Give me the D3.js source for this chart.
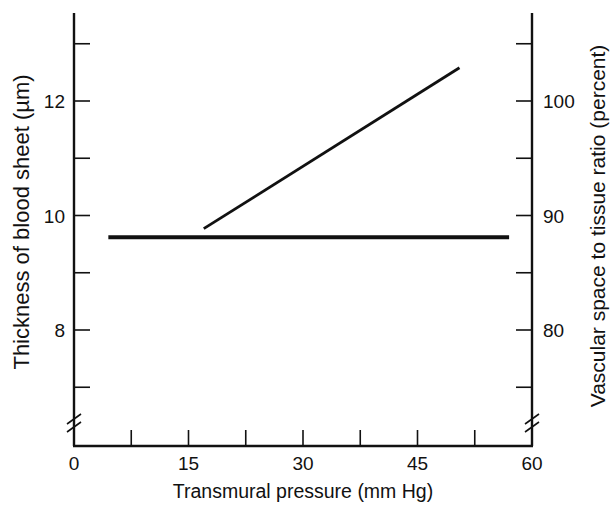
<!DOCTYPE html>
<html><head><meta charset="utf-8">
<script src="https://cdn.jsdelivr.net/npm/d3@7"></script>
<style>body{margin:0;background:#fff}svg{display:block}text{font-family:"Liberation Sans",Arial,sans-serif;fill:#111}</style>
</head><body><svg id="c" width="610" height="506"></svg>
<script>
// Data
const xTickLabels = [0, 15, 30, 45, 60];
const xMinorTicks = [7.5, 15, 22.5, 30, 37.5, 45, 52.5];
const leftTickLabels = [8, 10, 12];
const leftTicks = [7, 8, 9, 10, 11, 12, 13];
const rightTickLabels = [80, 90, 100];
const rightTicks = [75, 80, 85, 90, 95, 100, 105];
// Thickness of blood sheet (µm) vs transmural pressure
const thicknessPressure = [17, 50.5];
const thicknessValues = [9.77, 12.58];
// Vascular space to tissue ratio (percent)
const ratioPressure = [4.5, 57];
const ratioValues = [88.1, 88.1];

const svg = d3.select("#c");
const x = d3.scaleLinear().domain([0, 60]).range([74, 532]);
const yL = d3.scaleLinear().domain([8, 12]).range([330, 101]);
const yR = d3.scaleLinear().domain([80, 100]).range([330, 101]);
const axTop = 13, axBottom = 446, brk = 423;
const ink = "#111";

// axes lines
const g = svg.append("g").attr("stroke", ink).attr("fill", "none");
g.append("line").attr("x1", x(0)).attr("x2", x(0)).attr("y1", axTop).attr("y2", axBottom).attr("stroke-width", 2.4);
g.append("line").attr("x1", x(60)).attr("x2", x(60)).attr("y1", axTop).attr("y2", axBottom).attr("stroke-width", 2.4);
g.append("line").attr("x1", x(0) - 1).attr("x2", x(60) + 1).attr("y1", axBottom).attr("y2", axBottom).attr("stroke-width", 2.4);

// break marks
[x(0), x(60)].forEach(ax => {
  [-4, 4].forEach(d => {
    g.append("line").attr("x1", ax - 7).attr("y1", brk + d + 5).attr("x2", ax + 7).attr("y2", brk + d - 5).attr("stroke-width", 1.6);
  });
});

// ticks
g.selectAll(".xt").data(xMinorTicks).join("line")
  .attr("x1", d => x(d)).attr("x2", d => x(d)).attr("y1", axBottom).attr("y2", axBottom - 16).attr("stroke-width", 1.6);
g.selectAll(".lt").data(leftTicks).join("line")
  .attr("x1", x(0)).attr("x2", x(0) + 16).attr("y1", d => yL(d)).attr("y2", d => yL(d)).attr("stroke-width", 1.6);
g.selectAll(".rt").data(rightTicks).join("line")
  .attr("x1", x(60)).attr("x2", x(60) - 16).attr("y1", d => yR(d)).attr("y2", d => yR(d)).attr("stroke-width", 1.6);

// tick labels
svg.selectAll(".xl").data(xTickLabels).join("text")
  .attr("x", d => x(d)).attr("y", 470).attr("text-anchor", "middle").attr("font-size", 19).text(d => d);
svg.selectAll(".ll").data(leftTickLabels).join("text")
  .attr("x", 65).attr("y", d => yL(d) + 7).attr("text-anchor", "end").attr("font-size", 19).text(d => d);
svg.selectAll(".rl").data(rightTickLabels).join("text")
  .attr("x", 543).attr("y", d => yR(d) + 7).attr("text-anchor", "start").attr("font-size", 19).text(d => d);

// titles
svg.append("text").attr("x", 303).attr("y", 498).attr("text-anchor", "middle").attr("font-size", 19.5)
  .text("Transmural pressure (mm Hg)");
svg.append("text").attr("transform", "translate(28.5,222) rotate(-90)").attr("text-anchor", "middle").attr("font-size", 22)
  .text("Thickness of blood sheet (\u00b5m)");
svg.append("text").attr("transform", "translate(605,226) rotate(-90)").attr("text-anchor", "middle").attr("font-size", 21)
  .text("Vascular space to tissue ratio (percent)");

// data lines
const lineL = d3.line().x(d => x(d[0])).y(d => yL(d[1]));
const lineR = d3.line().x(d => x(d[0])).y(d => yR(d[1]));
svg.append("path").attr("d", lineL(d3.zip(thicknessPressure, thicknessValues)))
  .attr("stroke", ink).attr("stroke-width", 2.8).attr("fill", "none");
svg.append("path").attr("d", lineR(d3.zip(ratioPressure, ratioValues)))
  .attr("stroke", ink).attr("stroke-width", 4.2).attr("fill", "none");
</script></body></html>
